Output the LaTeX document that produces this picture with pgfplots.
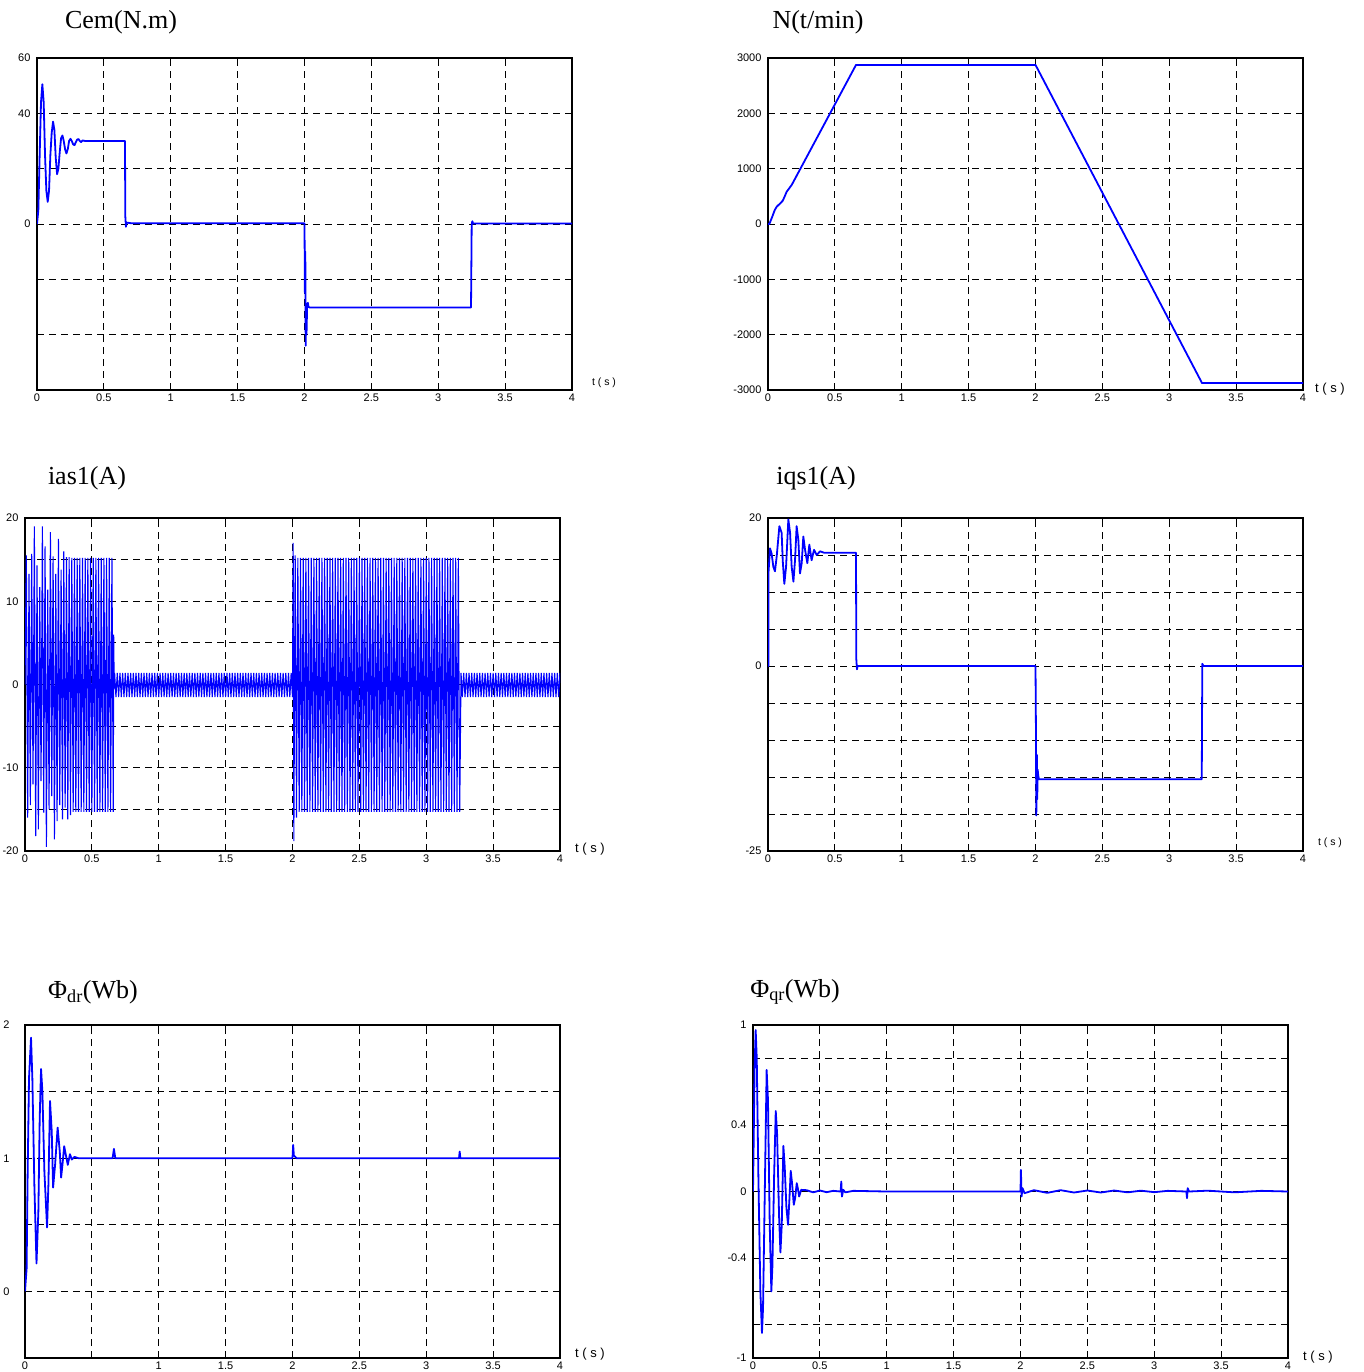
\documentclass[border=0pt]{standalone}
\usepackage{pgfplots}
\pgfplotsset{compat=1.18}
\usepackage{fontspec}
\setmainfont{Liberation Sans}
\newfontfamily\serif{Liberation Serif}
\definecolor{mblue}{RGB}{0,0,255}
\pgfplotsset{
 panel/.style={
  scale only axis, width=535pt, height=332pt,
  xmin=0, xmax=4, xtick={0,0.5,1,1.5,2,2.5,3,3.5,4},
  xticklabels={0,0.5,1,1.5,2,2.5,3,3.5,4},
  grid=major,
  major grid style={black, line width=0.8pt, dash pattern=on 7pt off 5pt},
  axis line style={black, line width=1.5pt},
  tick style={black, line width=0.8pt},
  major tick length=3pt,
  tick align=inside,
  ticklabel style={font=\fontsize{11}{11}\selectfont},
  yticklabel style={xshift=-3pt},
  clip=true,
 },
 curve/.style={mblue, line width=1.8pt, line join=round},
}
\begin{document}
\begin{tikzpicture}
\useasboundingbox (0,0) rectangle (1363pt,-1372pt);

% ---------------- Cem
\begin{axis}[panel, at={(37pt,-390pt)}, anchor=south west, height=332pt,
  ymin=-60, ymax=60, ytick={-40,-20,0,20,40,60}, yticklabels={,,0,,40,60}]
\addplot[curve] coordinates {
(0,0)(0.01,5)(0.02,25)(0.03,44)(0.04,50.5)(0.05,44)(0.06,25)(0.07,12)(0.08,8)(0.09,12)
(0.10,25)(0.11,33)(0.12,37)(0.13,34)(0.14,24)(0.15,18)(0.16,20)(0.17,26)(0.18,31)(0.19,32)
(0.20,30)(0.21,27)(0.22,25.5)(0.23,27)(0.24,30)(0.25,30.8)(0.26,30)(0.27,28.8)(0.28,28.5)(0.29,29.5)
(0.30,30.5)(0.31,30.7)(0.32,30)(0.33,29.6)(0.34,30.2)(0.36,30)(0.658,30)(0.66,3)(0.665,-1)(0.67,0.5)
(0.70,0.3)(2.0,0.3)(2.003,-25)(2.006,-10)(2.009,-44)(2.012,-30)(2.015,-40)(2.02,-29)(2.025,-28.5)
(2.03,-30)(2.04,-30.2)(3.245,-30.2)(3.25,0)(3.255,1)(3.26,0.2)(4,0.2)};
\end{axis}

% ---------------- N
\begin{axis}[panel, at={(768pt,-390pt)}, anchor=south west, height=332pt,
  ymin=-3000, ymax=3000, ytick={-3000,-2000,-1000,0,1000,2000,3000},
  yticklabels={-3000,-2000,-1000,0,1000,2000,3000}]
\addplot[curve] coordinates {
(0,0)(0.01,0)(0.03,120)(0.05,250)(0.065,312)(0.09,370)(0.11,420)(0.125,500)(0.14,585)
(0.16,650)(0.177,705)(0.658,2875)(2.0,2875)(3.245,-2875)(4,-2875)};
\end{axis}

% ---------------- ias1
\begin{axis}[panel, at={(25pt,-851pt)}, anchor=south west, height=333pt,
  ymin=-20, ymax=20, ytick={-20,-15,-10,-5,0,5,10,15,20},
  yticklabels={-20,,-10,,0,,10,,20}]
\addplot[mblue, line width=1.1pt] coordinates {
(0,0)(0.01,15.5)(0.02,-16)(0.03,13.3)(0.04,-14.5)(0.05,15.7)(0.06,-12)(0.07,19)(0.08,-18.2)(0.09,14.3)
(0.10,-17.4)(0.11,11.7)(0.12,-11.6)(0.13,19)(0.14,-15.4)(0.15,16.6)(0.16,-19.5)(0.17,11.4)(0.18,-15)(0.19,18.3)
(0.20,-13.4)(0.21,15.4)(0.22,-18.6)(0.23,13.3)(0.24,-16.4)(0.25,17.5)(0.26,-14.5)(0.27,13.8)(0.28,-16.2)(0.29,16)
(0.30,-14.8)(0.31,15.3)(0.32,-16.2)(0.33,15.3)(0.34,-15.7)(0.35,15.2)(0.36,-15.3)(0.37,15.2)(0.38,-15.3)(0.39,15.2)
(0.40,-15.3)(0.41,15.2)(0.42,-15.3)(0.43,15.2)(0.44,-15.3)(0.45,15.2)(0.46,-15.3)(0.47,15.2)(0.48,-15.3)(0.49,15.2)
(0.50,-15.3)(0.51,15.2)(0.52,-15.3)(0.53,15.2)(0.54,-15.3)(0.55,15.2)(0.56,-15.3)(0.57,15.2)(0.58,-15.3)(0.59,15.2)
(0.60,-15.3)(0.61,15.2)(0.62,-15.3)(0.63,15.2)(0.64,-15.3)(0.65,15.2)(0.66,-15.3)(0.663,6)(0.667,-0.5)
(0.67,1.4)(0.68,-1.5)(0.69,1.4)(0.70,-1.5)(0.71,1.4)(0.72,-1.5)(0.73,1.4)(0.74,-1.5)(0.75,1.4)(0.76,-1.5)
(0.77,1.4)(0.78,-1.5)(0.79,1.4)(0.80,-1.5)(0.81,1.4)(0.82,-1.5)(0.83,1.4)(0.84,-1.5)(0.85,1.4)(0.86,-1.5)
(0.87,1.4)(0.88,-1.5)(0.89,1.4)(0.90,-1.5)(0.91,1.4)(0.92,-1.5)(0.93,1.4)(0.94,-1.5)(0.95,1.4)(0.96,-1.5)
(0.97,1.4)(0.98,-1.5)(0.99,1.4)(1.00,-1.5)(1.01,1.4)(1.02,-1.5)(1.03,1.4)(1.04,-1.5)(1.05,1.4)(1.06,-1.5)
(1.07,1.4)(1.08,-1.5)(1.09,1.4)(1.10,-1.5)(1.11,1.4)(1.12,-1.5)(1.13,1.4)(1.14,-1.5)(1.15,1.4)(1.16,-1.5)
(1.17,1.4)(1.18,-1.5)(1.19,1.4)(1.20,-1.5)(1.21,1.4)(1.22,-1.5)(1.23,1.4)(1.24,-1.5)(1.25,1.4)(1.26,-1.5)
(1.27,1.4)(1.28,-1.5)(1.29,1.4)(1.30,-1.5)(1.31,1.4)(1.32,-1.5)(1.33,1.4)(1.34,-1.5)(1.35,1.4)(1.36,-1.5)
(1.37,1.4)(1.38,-1.5)(1.39,1.4)(1.40,-1.5)(1.41,1.4)(1.42,-1.5)(1.43,1.4)(1.44,-1.5)(1.45,1.4)(1.46,-1.5)
(1.47,1.4)(1.48,-1.5)(1.49,1.4)(1.50,-1.5)(1.51,1.4)(1.52,-1.5)(1.53,1.4)(1.54,-1.5)(1.55,1.4)(1.56,-1.5)
(1.57,1.4)(1.58,-1.5)(1.59,1.4)(1.60,-1.5)(1.61,1.4)(1.62,-1.5)(1.63,1.4)(1.64,-1.5)(1.65,1.4)(1.66,-1.5)
(1.67,1.4)(1.68,-1.5)(1.69,1.4)(1.70,-1.5)(1.71,1.4)(1.72,-1.5)(1.73,1.4)(1.74,-1.5)(1.75,1.4)(1.76,-1.5)
(1.77,1.4)(1.78,-1.5)(1.79,1.4)(1.80,-1.5)(1.81,1.4)(1.82,-1.5)(1.83,1.4)(1.84,-1.5)(1.85,1.4)(1.86,-1.5)
(1.87,1.4)(1.88,-1.5)(1.89,1.4)(1.90,-1.5)(1.91,1.4)(1.92,-1.5)(1.93,1.4)(1.94,-1.5)(1.95,1.4)(1.96,-1.5)
(1.97,1.4)(1.98,-1.5)(1.99,1.4)(2.00,-1.5)(2.005,17)(2.01,-18.8)(2.02,15.5)(2.03,-16)
(2.04,15.2)(2.05,-15.3)(2.06,15.2)(2.07,-15.3)(2.08,15.2)(2.09,-15.3)(2.10,15.2)(2.11,-15.3)(2.12,15.2)(2.13,-15.3)
(2.14,15.2)(2.15,-15.3)(2.16,15.2)(2.17,-15.3)(2.18,15.2)(2.19,-15.3)(2.20,15.2)(2.21,-15.3)(2.22,15.2)(2.23,-15.3)
(2.24,15.2)(2.25,-15.3)(2.26,15.2)(2.27,-15.3)(2.28,15.2)(2.29,-15.3)(2.30,15.2)(2.31,-15.3)(2.32,15.2)(2.33,-15.3)
(2.34,15.2)(2.35,-15.3)(2.36,15.2)(2.37,-15.3)(2.38,15.2)(2.39,-15.3)(2.40,15.2)(2.41,-15.3)(2.42,15.2)(2.43,-15.3)
(2.44,15.2)(2.45,-15.3)(2.46,15.2)(2.47,-15.3)(2.48,15.2)(2.49,-15.3)(2.50,15.2)(2.51,-15.3)(2.52,15.2)(2.53,-15.3)
(2.54,15.2)(2.55,-15.3)(2.56,15.2)(2.57,-15.3)(2.58,15.2)(2.59,-15.3)(2.60,15.2)(2.61,-15.3)(2.62,15.2)(2.63,-15.3)
(2.64,15.2)(2.65,-15.3)(2.66,15.2)(2.67,-15.3)(2.68,15.2)(2.69,-15.3)(2.70,15.2)(2.71,-15.3)(2.72,15.2)(2.73,-15.3)
(2.74,15.2)(2.75,-15.3)(2.76,15.2)(2.77,-15.3)(2.78,15.2)(2.79,-15.3)(2.80,15.2)(2.81,-15.3)(2.82,15.2)(2.83,-15.3)
(2.84,15.2)(2.85,-15.3)(2.86,15.2)(2.87,-15.3)(2.88,15.2)(2.89,-15.3)(2.90,15.2)(2.91,-15.3)(2.92,15.2)(2.93,-15.3)
(2.94,15.2)(2.95,-15.3)(2.96,15.2)(2.97,-15.3)(2.98,15.2)(2.99,-15.3)(3.00,15.2)(3.01,-15.3)(3.02,15.2)(3.03,-15.3)
(3.04,15.2)(3.05,-15.3)(3.06,15.2)(3.07,-15.3)(3.08,15.2)(3.09,-15.3)(3.10,15.2)(3.11,-15.3)(3.12,15.2)(3.13,-15.3)
(3.14,15.2)(3.15,-15.3)(3.16,15.2)(3.17,-15.3)(3.18,15.2)(3.19,-15.3)(3.20,15.2)(3.21,-15.3)(3.22,15.2)(3.23,-15.3)
(3.24,15.2)(3.25,-15.3)(3.26,1.4)(3.27,-1.5)(3.28,1.4)(3.29,-1.5)(3.30,1.4)(3.31,-1.5)(3.32,1.4)(3.33,-1.5)
(3.34,1.4)(3.35,-1.5)(3.36,1.4)(3.37,-1.5)(3.38,1.4)(3.39,-1.5)(3.40,1.4)(3.41,-1.5)(3.42,1.4)(3.43,-1.5)
(3.44,1.4)(3.45,-1.5)(3.46,1.4)(3.47,-1.5)(3.48,1.4)(3.49,-1.5)(3.50,1.4)(3.51,-1.5)(3.52,1.4)(3.53,-1.5)
(3.54,1.4)(3.55,-1.5)(3.56,1.4)(3.57,-1.5)(3.58,1.4)(3.59,-1.5)(3.60,1.4)(3.61,-1.5)(3.62,1.4)(3.63,-1.5)
(3.64,1.4)(3.65,-1.5)(3.66,1.4)(3.67,-1.5)(3.68,1.4)(3.69,-1.5)(3.70,1.4)(3.71,-1.5)(3.72,1.4)(3.73,-1.5)
(3.74,1.4)(3.75,-1.5)(3.76,1.4)(3.77,-1.5)(3.78,1.4)(3.79,-1.5)(3.80,1.4)(3.81,-1.5)(3.82,1.4)(3.83,-1.5)
(3.84,1.4)(3.85,-1.5)(3.86,1.4)(3.87,-1.5)(3.88,1.4)(3.89,-1.5)(3.90,1.4)(3.91,-1.5)(3.92,1.4)(3.93,-1.5)
(3.94,1.4)(3.95,-1.5)(3.96,1.4)(3.97,-1.5)(3.98,1.4)(3.99,-1.5)(4.00,1.4)};
\end{axis}

% ---------------- iqs1
\begin{axis}[panel, at={(768pt,-851pt)}, anchor=south west, height=333pt,
  ymin=-25, ymax=20, ytick={-25,-20,-15,-10,-5,0,5,10,15,20},
  yticklabels={-25,,,,,0,,,,20}]
\addplot[curve] coordinates {
(0,0)(0.003,0)(0.004,12.7)(0.015,15.9)(0.027,15.2)(0.040,13.4)(0.052,12.8)(0.065,14.8)(0.085,18.9)
(0.102,18)(0.110,14.3)(0.122,11.1)(0.135,13.4)(0.152,19.8)(0.165,18)(0.177,13.4)(0.19,11.4)(0.202,14.3)
(0.214,18.9)(0.227,17)(0.239,12.5)(0.252,13.9)(0.264,17.5)(0.277,15.7)(0.294,13.9)(0.309,16.4)(0.326,14.3)
(0.344,15.7)(0.364,15)(0.389,15.5)(0.42,15.3)(0.658,15.3)(0.66,1)(0.665,-0.45)(0.67,0)(2.0,0)
(2.003,-8)(2.006,-20.2)(2.01,-12)(2.013,-18)(2.016,-14)(2.02,-14.7)(2.025,-15.3)(3.243,-15.3)
(3.247,0.3)(3.255,0)(4,0)};
\end{axis}

% ---------------- Phi_dr
\begin{axis}[panel, at={(25pt,-1358pt)}, anchor=south west, height=333pt,
  ymin=-0.5, ymax=2, ytick={-0.5,0,0.5,1,1.5,2}, yticklabels={,0,,1,,2},
  xticklabels={0,,1,1.5,2,2.5,3,3.5,4}, yticklabel style={xshift=-9pt}]
\addplot[curve] coordinates {
(0,0)(0.012,0.17)(0.02,0.9)(0.03,1.6)(0.045,1.905)(0.055,1.6)(0.07,0.8)(0.086,0.21)(0.1,0.6)
(0.11,1.3)(0.12,1.67)(0.13,1.5)(0.145,0.9)(0.165,0.48)(0.175,0.8)(0.187,1.43)(0.2,1.2)(0.21,0.78)
(0.225,0.95)(0.244,1.23)(0.26,1.05)(0.27,0.855)(0.28,0.95)(0.293,1.09)(0.31,1.0)(0.32,0.95)
(0.336,1.03)(0.35,0.99)(0.37,1.01)(0.4,1.0)(0.655,1.0)(0.665,1.07)(0.675,1.0)(2.0,1.0)(2.005,1.1)
(2.01,1.02)(2.03,1.0)(3.245,1.0)(3.25,1.05)(3.255,1.0)(4,1.0)};
\end{axis}

% ---------------- Phi_qr
\begin{axis}[panel, at={(753pt,-1358pt)}, anchor=south west, height=333pt,
  ymin=-1, ymax=1, ytick={-1,-0.8,-0.6,-0.4,-0.2,0,0.2,0.4,0.6,0.8,1},
  yticklabels={-1,,,-0.4,,0,,0.4,,,1}]
\addplot[curve] coordinates {
(0,0)(0.005,0.3)(0.012,0.75)(0.02,0.97)(0.028,0.8)(0.04,0.1)(0.055,-0.6)(0.067,-0.85)(0.075,-0.7)
(0.09,0.1)(0.102,0.73)(0.112,0.55)(0.125,-0.2)(0.137,-0.6)(0.145,-0.45)(0.158,0.1)(0.17,0.484)
(0.18,0.35)(0.195,-0.15)(0.205,-0.366)(0.215,-0.2)(0.227,0.274)(0.237,0.15)(0.25,-0.1)(0.262,-0.2)
(0.272,-0.05)(0.282,0.124)(0.292,0.05)(0.305,-0.08)(0.315,-0.04)(0.327,0.05)(0.335,0.02)(0.345,-0.03)
(0.36,0.01)(0.4,0.008)(0.45,-0.005)(0.5,0.006)(0.55,-0.004)(0.6,0.004)(0.655,0)(0.66,0.06)(0.665,-0.03)
(0.675,0.01)(0.69,-0.005)(0.75,0.004)(1.0,0)(2.0,0)(2.003,0.13)(2.008,-0.03)(2.015,0.02)(2.03,-0.01)
(2.1,0.008)(2.2,-0.008)(2.3,0.008)(2.4,-0.006)(2.5,0.006)(2.6,-0.006)(2.7,0.006)(2.8,-0.005)(2.9,0.005)
(3.0,-0.004)(3.1,0.004)(3.24,0)(3.245,-0.04)(3.25,0.02)(3.26,0)(3.4,0.005)(3.6,-0.005)(3.8,0.004)(4,0)};
\end{axis}

% titles
\node[font=\serif\fontsize{26}{26}\selectfont] at (121pt,-22pt) {Cem(N.m)};
\node[font=\serif\fontsize{26}{26}\selectfont] at (818pt,-22pt) {N(t/min)};
\node[font=\serif\fontsize{26}{26}\selectfont] at (87pt,-478pt) {ias1(A)};
\node[font=\serif\fontsize{26}{26}\selectfont] at (816pt,-478pt) {iqs1(A)};
\node[font=\serif\fontsize{26}{26}\selectfont] at (93pt,-992pt) {Φ\textsubscript{dr}(Wb)};
\node[font=\serif\fontsize{26}{26}\selectfont] at (795pt,-992pt) {Φ\textsubscript{qr}(Wb)};
% t (s) labels
\node[font=\fontsize{10.5}{11}\selectfont] at (604pt,-383pt) {t ( s )};
\node[font=\fontsize{13}{13}\selectfont] at (1330pt,-389pt) {t ( s )};
\node[font=\fontsize{13}{13}\selectfont] at (590pt,-849pt) {t ( s )};
\node[font=\fontsize{10.5}{11}\selectfont] at (1330pt,-843pt) {t ( s )};
\node[font=\fontsize{13}{13}\selectfont] at (590pt,-1354pt) {t ( s )};
\node[font=\fontsize{13}{13}\selectfont] at (1318pt,-1357pt) {t ( s )};
\end{tikzpicture}
\end{document}
